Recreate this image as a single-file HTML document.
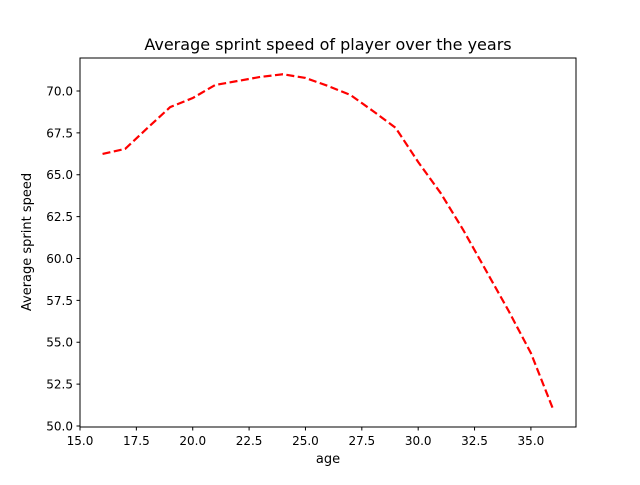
<!DOCTYPE html>
<html><head><meta charset="utf-8"><style>
body{margin:0;background:#fff}
svg text{font-family:"DejaVu Sans","Liberation Sans",sans-serif;fill:#000}
</style></head><body>
<svg id="chart" width="640" height="480" xmlns="http://www.w3.org/2000/svg">
<rect width="640" height="480" fill="#fff"/>
<text x="328" y="50" font-size="16" text-anchor="middle">Average sprint speed of player over the years</text>
<rect x="80" y="58" width="496" height="369" fill="none" stroke="#000" stroke-width="1"/>
<text x="328" y="463" font-size="13" text-anchor="middle">age</text>
<text x="31" y="242" font-size="13" text-anchor="middle" transform="rotate(-90 31 242)">Average sprint speed</text>
</svg>
<script>
const ages=[16,17,18,19,20,21,22,23,24,25,26,27,28,29,30,31,32,33,34,35,36];
const speeds=[66.24,66.54,67.8,69.04,69.58,70.36,70.6,70.84,71.0,70.78,70.3,69.76,68.8,67.8,65.76,63.9,61.7,59.3,56.9,54.35,50.95];
const xTicks=[15,17.5,20,22.5,25,27.5,30,32.5,35];
const yTicks=[50,52.5,55,57.5,60,62.5,65,67.5,70];
const X0=80,X1=576,Y0=427,Y1=58,xmin=15,xmax=37,ymin=49.94,ymax=71.97;
const sx=v=>X0+(v-xmin)/(xmax-xmin)*(X1-X0);
const sy=v=>Y0-(v-ymin)/(ymax-ymin)*(Y0-Y1);
const svg=document.getElementById('chart');const NS='http://www.w3.org/2000/svg';
function mk(t,a){const e=document.createElementNS(NS,t);for(const k in a)e.setAttribute(k,a[k]);svg.appendChild(e);return e;}
xTicks.forEach(v=>{const x=sx(v);
const l=mk('line',{x1:x,x2:x,y1:427,y2:430.5,stroke:'#000'});


const t=mk('text',{x:x,y:445,'font-size':'12','text-anchor':'middle'});t.textContent=v.toFixed(1);

});
yTicks.forEach(v=>{const y=sy(v);
const l=mk('line',{x1:76.5,x2:80,y1:y,y2:y,stroke:'#000'});


const t=mk('text',{x:73,y:y+4.5,'font-size':'12','text-anchor':'end'});t.textContent=v.toFixed(1);

});
const p=mk('polyline',{points:ages.map((a,i)=>sx(a)+','+sy(speeds[i])).join(' '),fill:'none',stroke:'#ff0000','stroke-width':'2.2','stroke-dasharray':'8,3.5'});


</script>
</body></html>
